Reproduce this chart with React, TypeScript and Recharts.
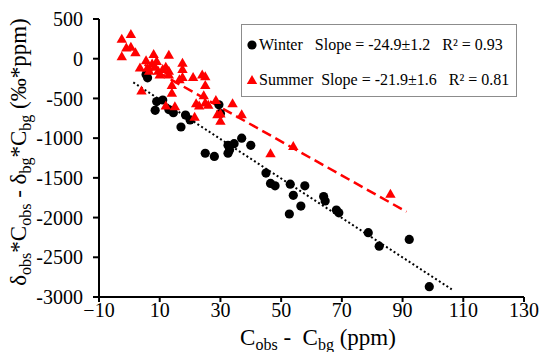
import { ScatterChart, Scatter, XAxis, YAxis, ReferenceLine, Legend } from 'recharts';

// Winter observations (C_obs - C_bg, ppm) vs (δobs*Cobs - δbg*Cbg)
const winterX = [5.5, 6, 9, 8.5, 11, 13, 14.5, 17, 18.5, 20, 25, 28, 29.5, 30, 32.5, 33, 32.5, 34.5, 37, 40, 45, 46.5, 48, 53, 54, 52.7, 56.5, 57.8, 64, 64.5, 68.2, 69, 78.7, 82.3, 92.2, 98.8];
const winterY = [-200, -240, -540, -650, -520, -640, -680, -860, -710, -770, -1190, -1230, -580, -690, -1090, -1150, -1190, -1070, -1000, -1090, -1440, -1570, -1600, -1580, -1720, -1955, -1855, -1600, -1735, -1790, -1905, -1940, -2190, -2360, -2275, -2870];

const summerX = [-2.5, 0.5, -2.5, -1, 0.5, 2, 3.5, 4, 5.5, 6, 6.5, 7.5, 8, 8.5, 9, 9.5, 10, 11, 12, 13, 13, 13, 14, 14, 12, 15, 17.5, 17.5, 17.5, 16.5, 21, 21.5, 22, 23, 24, 25, 25, 24.5, 25, 26, 28.5, 29, 30, 30, 34, 37, 46.5, 54, 86];
const summerY = [250, 310, 30, 140, 150, 80, -110, -400, -20, -110, -150, -60, 60, -100, -30, -150, -200, -130, -100, 50, -150, -200, -330, -430, -590, -600, -50, -130, -230, -260, -230, -730, -560, -590, -200, -220, -330, -460, -550, -580, -520, -700, -780, -690, -560, -700, -1190, -1100, -1700];

// fitted lines, drawn between these end points
const winterFitX = [1.3, 106.2];
const winterFitY = [-298, -2904];
const summerFitX = [5, 91.3];
const summerFitY = [-76, -1927];

const xTicks = [-10, 10, 30, 50, 70, 90, 110, 130];
const yTicks = [500, 0, -500, -1000, -1500, -2000, -2500, -3000];

const winter = winterX.map((x, i) => ({ x, y: winterY[i] }));
const summer = summerX.map((x, i) => ({ x, y: summerY[i] }));

const FONT = "'Liberation Serif', 'Times New Roman', Times, 'DejaVu Serif', serif";

const Dot = (p: any) => <circle cx={p.cx} cy={p.cy} r={4.6} fill="#000" />;
const Tri = (p: any) => (
  <path d={`M${p.cx},${p.cy - 5} L${p.cx + 5.2},${p.cy + 4} L${p.cx - 5.2},${p.cy + 4} Z`} fill="#ff0000" />
);

const YLabel = () => (
  <text transform="translate(26,152) rotate(-90)" textAnchor="middle" style={{ fontFamily: FONT, fontSize: 23 }} fill="#000">
    δ<tspan dy={5} fontSize={16}>obs</tspan>
    <tspan dy={-5}>*C</tspan>
    <tspan dy={5} fontSize={16}>obs</tspan>
    <tspan dy={-5}> - δ</tspan>
    <tspan dy={5} fontSize={16}>bg</tspan>
    <tspan dy={-5}>*C</tspan>
    <tspan dy={5} fontSize={16}>bg</tspan>
    <tspan dy={-5}> (‰*ppm)</tspan>
  </text>
);

const XLabel = () => (
  <text x={318} y={345} textAnchor="middle" fill="#000" style={{ whiteSpace: 'pre', fontFamily: FONT, fontSize: 23 }}>
    C<tspan dy={5} fontSize={16}>obs</tspan>
    <tspan dy={-5}>{' -  C'}</tspan>
    <tspan dy={5} fontSize={16}>bg</tspan>
    <tspan dy={-5}> (ppm)</tspan>
  </text>
);

const LegendBox = () => (
  <div style={{ width: 274, height: 71, border: '1px solid #8c8c8c', fontFamily: FONT, fontSize: 16, color: '#000', background: '#fff', whiteSpace: 'pre', boxSizing: 'content-box' }}>
    <div style={{ display: 'flex', alignItems: 'center', height: 36, paddingTop: 2 }}>
      <svg width={14} height={14} style={{ marginLeft: 3, flexShrink: 0 }}><circle cx={7} cy={7} r={4.6} fill="#000" /></svg>
      <span>{'Winter   Slope = -24.9±1.2   R² = 0.93'}</span>
    </div>
    <div style={{ display: 'flex', alignItems: 'center', height: 33 }}>
      <svg width={14} height={14} style={{ marginLeft: 3, flexShrink: 0 }}><path d="M7,2 L12.2,11 L1.8,11 Z" fill="#ff0000" /></svg>
      <span>{'Summer  Slope = -21.9±1.6   R² = 0.81'}</span>
    </div>
  </div>
);

export default function App() {
  return (
    <div style={{ position: 'absolute', left: 0, top: 0, width: 540, height: 352, background: '#fff', fontFamily: FONT }}>
      <ScatterChart width={540} height={352} margin={{ top: 19, right: 16, bottom: 0, left: 0 }} style={{ fontFamily: FONT }}>
        <XAxis
          type="number"
          dataKey="x"
          domain={[-10, 130]}
          ticks={xTicks}
          height={55}
          tickSize={5}
          tickMargin={1}
          tickFormatter={(v: number) => (v < 0 ? `−${-v}` : `${v}`)}
          tick={{ fill: '#000', fontSize: 20, fontFamily: FONT }}
          axisLine={{ stroke: '#000', strokeWidth: 2 }}
          tickLine={{ stroke: '#000', strokeWidth: 2 }}
          allowDataOverflow
        />
        <XAxis xAxisId="top" orientation="top" type="number" domain={[-10, 130]} height={0} tick={false} tickLine={false} axisLine={{ stroke: '#000', strokeWidth: 2 }} />
        <YAxis
          type="number"
          dataKey="y"
          domain={[-3000, 500]}
          ticks={yTicks}
          width={99}
          tickSize={6}
          tickMargin={10}
          tick={{ fill: '#000', fontSize: 20, fontFamily: FONT }}
          axisLine={{ stroke: '#000', strokeWidth: 2 }}
          tickLine={{ stroke: '#000', strokeWidth: 2 }}
          allowDataOverflow
        />
        <YAxis yAxisId="right" orientation="right" type="number" domain={[-3000, 500]} width={0} tick={false} tickLine={false} axisLine={{ stroke: '#000', strokeWidth: 2 }} />
        <ReferenceLine
          segment={[{ x: winterFitX[0], y: winterFitY[0] }, { x: winterFitX[1], y: winterFitY[1] }]}
          stroke="#000"
          strokeWidth={2}
          strokeDasharray="2 2.5"
        />
        <ReferenceLine
          segment={[{ x: summerFitX[0], y: summerFitY[0] }, { x: summerFitX[1], y: summerFitY[1] }]}
          stroke="#ff0000"
          strokeWidth={2.5}
          strokeDasharray="10 5"
        />
        <Scatter name="Winter" data={winter} shape={Dot} isAnimationActive={false} />
        <Scatter name="Summer" data={summer} shape={Tri} isAnimationActive={false} />
        <Legend
          layout="horizontal"
          verticalAlign="middle"
          align="center"
          content={() => <LegendBox />}
          wrapperStyle={{ position: 'absolute', left: 241, top: 24, width: 276, height: 73 }}
        />
        <YLabel />
        <XLabel />
      </ScatterChart>
    </div>
  );
}
